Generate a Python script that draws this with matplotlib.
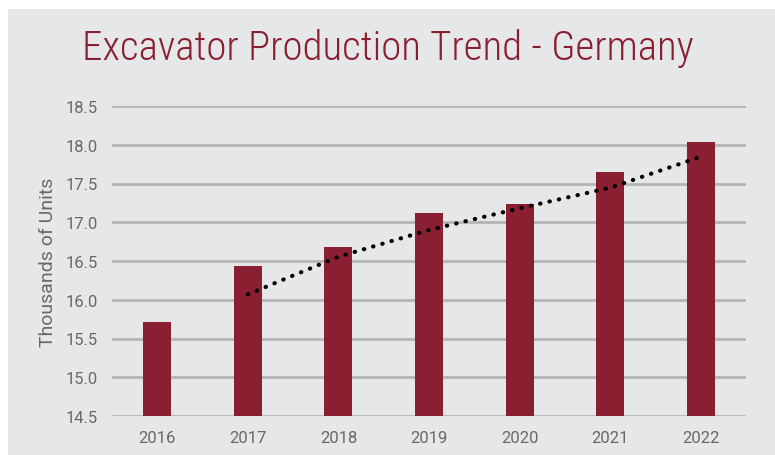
import matplotlib
matplotlib.use("Agg")
import matplotlib.pyplot as plt
import pandas as pd
from matplotlib.patches import Rectangle
from matplotlib import font_manager as fm

years = ["2016", "2017", "2018", "2019", "2020", "2021", "2022"]
production = [15.71, 16.43, 16.68, 17.12, 17.24, 17.65, 18.04]
yticks = [14.5, 15.0, 15.5, 16.0, 16.5, 17.0, 17.5, 18.0, 18.5]

# 2-period moving average trendline (as in the source chart)
trend = pd.Series(production).rolling(2).mean()

BG = "#e6e7e9"
BAR = "#8a1f31"
TXT = "#686868"

# pick a narrow font for the title if one is installed
title_fp = None
for fam, stretch, weight in [("Liberation Sans Narrow", "normal", "normal"),
                             ("Roboto Condensed", "normal", "light"),
                             ("DejaVu Sans", "condensed", "normal"),
                             ("Roboto", "normal", "light")]:
    fp = fm.FontProperties(family=fam, stretch=stretch, weight=weight)
    try:
        path = fm.findfont(fp, fallback_to_default=False)
    except Exception:
        continue
    name = path.lower()
    if fam == "DejaVu Sans" and "condensed" not in name:
        continue
    if fam.split()[0].lower() not in name:
        continue
    title_fp = fp
    break
if title_fp is None:
    title_fp = fm.FontProperties(family="DejaVu Sans")

tick_fp = fm.FontProperties(family=["Roboto", "DejaVu Sans"], weight="normal", size=12)
ylab_fp = fm.FontProperties(family=["Roboto", "DejaVu Sans"], weight="normal", size=14)

fig = plt.figure(figsize=(7.75, 4.56), dpi=100)
fig.patch.set_facecolor("white")
bgrect = Rectangle((8/775, -0.02), 1.02, 1.02 - 10/456, transform=fig.transFigure,
                   facecolor=BG, edgecolor="none", zorder=-10)
fig.add_artist(bgrect)

ax = fig.add_axes([112/775, 1 - 417/456, (746-112)/775, (417-107)/456])
ax.set_facecolor(BG)
x = list(range(len(years)))
ax.bar(x, production, width=0.31, color=BAR, zorder=3)
ax.plot(x[1:], trend.values[1:], linestyle=(0, (0.1, 2.2)), color="black",
        linewidth=3, dash_capstyle="round", zorder=4)

ax.set_ylim(14.5, 18.5)
ax.set_xlim(-0.5, len(years) - 0.5)
ax.set_yticks(yticks)
ax.set_yticklabels([f"{v:.1f}" for v in yticks], fontproperties=tick_fp)
ax.set_xticks(x)
ax.set_xticklabels(years, fontproperties=tick_fp)
ax.grid(axis="y", color="#b5b5b7", linewidth=2, zorder=1)
for s in ax.spines.values():
    s.set_visible(False)
ax.tick_params(axis="both", length=0, labelcolor=TXT, pad=10)
ax.set_ylabel("Thousands of Units", color=TXT, labelpad=6, fontproperties=ylab_fp)

title_fp.set_size(30)
t = fig.text(0.5, 1 - 48/456, "Excavator Production Trend - Germany",
             ha="center", va="center", color=BAR, fontproperties=title_fp)
fig.canvas.draw()
w = t.get_window_extent().width
if w > 615:
    title_fp.set_size(30 * 610 / w)
    t.set_fontproperties(title_fp)

fig.savefig("out.png", dpi=100, facecolor=fig.get_facecolor())
